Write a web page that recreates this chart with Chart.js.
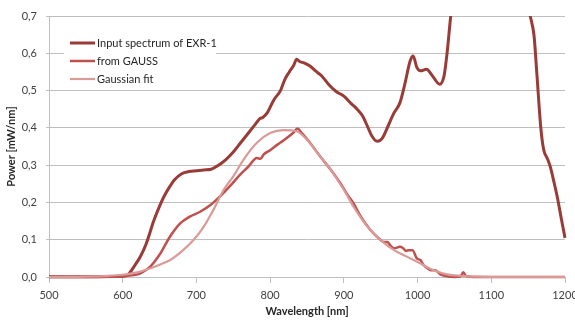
<!DOCTYPE html>
<html>
<head>
<meta charset="utf-8">
<script src="https://cdn.jsdelivr.net/npm/chart.js@4.4.1/dist/chart.umd.min.js"></script>
<style>
  body { margin: 0; background: #fff; }
  #wrap { width: 575px; height: 320px; }
</style>
</head>
<body>
<div id="wrap"><canvas id="spectrumChart" width="575" height="320"></canvas></div>
<script>
// input spectrum of EXR-1 (nm, mW/nm) - goes off the top of the plot past 1045 nm
var inputWl = [500, 550, 600, 608, 616, 624, 632, 642, 650, 656, 664, 670, 680, 690, 700, 710, 720, 730, 740, 750,
  760, 770, 780, 786, 790, 796, 805, 814, 820, 826, 832, 836, 840, 846, 854, 862, 870, 880, 890, 900,
  910, 918, 926, 932, 938, 945, 952, 960, 968, 976, 983, 990, 994, 999, 1004, 1012, 1020, 1030, 1036, 1040,
  1045, 1055, 1080, 1110, 1140, 1146, 1150, 1154, 1158, 1162, 1167, 1171, 1176, 1180, 1185, 1190, 1195, 1200];
var inputVal = [0.001, 0.001, 0.002, 0.008, 0.03, 0.055, 0.09, 0.15, 0.19, 0.216, 0.243, 0.26, 0.277, 0.283, 0.285, 0.287, 0.289, 0.300, 0.315, 0.335,
  0.36, 0.385, 0.41, 0.425, 0.428, 0.44, 0.475, 0.50, 0.53, 0.55, 0.568, 0.584, 0.578, 0.574, 0.566, 0.552, 0.539, 0.515, 0.497, 0.485,
  0.465, 0.45, 0.43, 0.404, 0.378, 0.364, 0.372, 0.405, 0.44, 0.467, 0.52, 0.58, 0.593, 0.562, 0.553, 0.557, 0.54, 0.517, 0.54, 0.60,
  0.70, 0.85, 1.0, 1.0, 0.8, 0.76, 0.72, 0.69, 0.647, 0.54, 0.404, 0.342, 0.318, 0.296, 0.255, 0.21, 0.156, 0.105];

// from GAUSS
var gaussWl = [500, 550, 600, 615, 624, 637, 651, 664, 678, 691, 705, 719, 732, 746, 759, 770, 782, 787, 791, 800,
  810, 818, 826, 832, 837, 843, 854, 868, 882, 895, 905, 913, 922, 936, 950, 954, 959, 963, 968, 976,
  980, 984, 988, 993, 999, 1004, 1008, 1013, 1018, 1024, 1031, 1040, 1050, 1058, 1062, 1066, 1080, 1100, 1150, 1200];
var gaussVal = [0.0, 0.0, 0.002, 0.005, 0.01, 0.027, 0.063, 0.108, 0.144, 0.162, 0.175, 0.193, 0.216, 0.245, 0.274, 0.295, 0.319, 0.317, 0.328, 0.34,
  0.355, 0.366, 0.378, 0.388, 0.398, 0.386, 0.36, 0.323, 0.288, 0.252, 0.22, 0.198, 0.165, 0.126, 0.099, 0.094, 0.094, 0.085, 0.077, 0.081,
  0.078, 0.07, 0.072, 0.072, 0.05, 0.045, 0.032, 0.024, 0.018, 0.018, 0.007, 0.002, 0.0, 0.001, 0.013, 0.002, 0.0, 0.0, 0.0, 0.0];

// Gaussian fit
var fitWl = [500, 550, 580, 600, 610, 625, 637, 650, 664, 682, 696, 710, 723, 737, 750, 764, 782, 800, 818, 836,
  850, 864, 882, 900, 913, 922, 936, 950, 968, 986, 1004, 1022, 1040, 1058, 1080, 1100, 1150, 1200];
var fitVal = [0.0, 0.001, 0.003, 0.006, 0.009, 0.015, 0.023, 0.033, 0.045, 0.072, 0.099, 0.135, 0.18, 0.234, 0.27, 0.315, 0.36, 0.386, 0.394, 0.391,
  0.368, 0.333, 0.288, 0.234, 0.189, 0.162, 0.126, 0.099, 0.072, 0.054, 0.036, 0.018, 0.007, 0.003, 0.001, 0.0, 0.0, 0.0];

var seriesNames = ["Input spectrum of EXR-1", "from GAUSS", "Gaussian fit"];
var seriesColors = ["#993B37", "#C0504D", "#DA9A98"];

var xTicks = [500, 600, 700, 800, 900, 1000, 1100, 1200];
var yTicks = [0, 0.1, 0.2, 0.3, 0.4, 0.5, 0.6, 0.7];

function toPoints(wl, val) {
  return wl.map(function (w, i) { return {x: w, y: val[i]}; });
}

var font = "Lato, 'Liberation Sans', sans-serif";
var gridColor = "#BFBFBF";

// legend box drawn inside the plot like the original
var insideLegend = {
  id: 'insideLegend',
  afterDatasetsDraw: function (chart) {
    var ctx = chart.ctx;
    ctx.save();
    ctx.fillStyle = '#fff';
    ctx.fillRect(64, 33, 152, 55);
    ctx.font = "11px " + font;
    ctx.textBaseline = 'middle';
    chart.data.datasets.forEach(function (ds, i) {
      var y = 43 + i * 18;
      ctx.strokeStyle = ds.borderColor;
      ctx.lineWidth = ds.borderWidth;
      ctx.beginPath();
      ctx.moveTo(70, y);
      ctx.lineTo(95, y);
      ctx.stroke();
      ctx.fillStyle = '#262626';
      ctx.fillText(ds.label, 97, y + 0.5);
    });
    ctx.restore();
  }
};

var ctx = document.getElementById("spectrumChart").getContext("2d");
new Chart(ctx, {
  type: 'line',
  data: {
    datasets: [
      {label: seriesNames[0], data: toPoints(inputWl, inputVal), borderColor: seriesColors[0], borderWidth: 3, order: 2},
      {label: seriesNames[1], data: toPoints(gaussWl, gaussVal), borderColor: seriesColors[1], borderWidth: 2.5, order: 1},
      {label: seriesNames[2], data: toPoints(fitWl, fitVal), borderColor: seriesColors[2], borderWidth: 2.2, order: 0}
    ]
  },
  options: {
    responsive: false,
    animation: false,
    layout: { padding: { top: 16, right: 10, left: 0, bottom: 0 } },
    elements: {
      point: { radius: 0 },
      line: { cubicInterpolationMode: 'monotone', fill: false }
    },
    datasets: { line: { clip: { left: 0, top: 0, right: 2, bottom: 3 } } },
    plugins: {
      legend: { display: false },
      tooltip: { enabled: false }
    },
    scales: {
      x: {
        type: 'linear',
        min: 500,
        max: 1200,
        afterBuildTicks: function (scale) {
          scale.ticks = xTicks.map(function (v) { return {value: v}; });
        },
        afterFit: function (scale) {
          scale.height = 43;
          scale.paddingLeft = 0;
          scale.paddingRight = 0;
        },
        grid: { drawOnChartArea: false, color: gridColor, tickLength: 6 },
        border: { color: gridColor },
        ticks: {
          padding: 6,
          color: '#404040',
          font: { family: font, size: 11 },
          maxRotation: 0,
          callback: function (v) { return String(v); }
        },
        title: { display: true, text: 'Wavelength [nm]', color: '#262626', font: { family: font, size: 11, weight: 'bold' }, padding: { top: 0, bottom: 2 } }
      },
      y: {
        min: 0,
        max: 0.7,
        afterBuildTicks: function (scale) {
          scale.ticks = yTicks.map(function (v) { return {value: v}; });
        },
        afterFit: function (scale) {
          scale.width = 49;
          scale.paddingTop = 0;
          scale.paddingBottom = 0;
        },
        grid: { color: gridColor, tickLength: 3 },
        border: { color: gridColor },
        ticks: {
          padding: 9,
          color: '#404040',
          font: { family: font, size: 11 },
          callback: function (v) { return v.toFixed(1).replace('.', ','); }
        },
        title: { display: true, text: 'Power [mW/nm]', color: '#262626', font: { family: font, size: 11, weight: 'bold' }, padding: { top: 5, bottom: 0 } }
      }
    }
  },
  plugins: [insideLegend]
});
</script>
</body>
</html>
